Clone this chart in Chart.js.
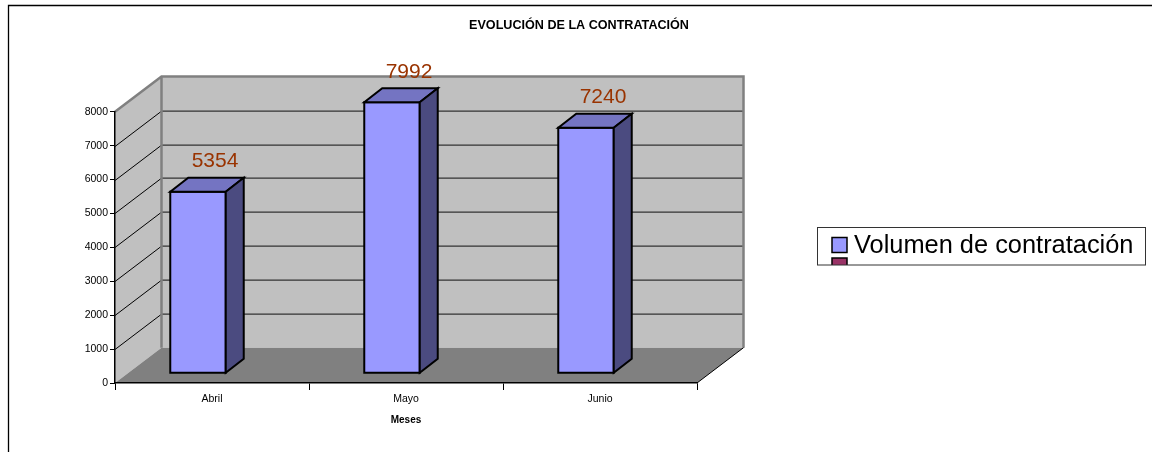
<!DOCTYPE html>
<html><head><meta charset="utf-8">
<script src="https://cdn.jsdelivr.net/npm/chart.js@4.4.1/dist/chart.umd.min.js"></script>
<style>html,body{margin:0;padding:0;background:#fff;overflow:hidden}canvas{display:block}</style>
</head><body>
<canvas id="c" width="1152" height="452"></canvas>
<script>
// ---- data ----
const chartTitle = 'EVOLUCIÓN DE LA CONTRATACIÓN';
const xAxisTitle = 'Meses';
const categories = ['Abril', 'Mayo', 'Junio'];
const volumen = [5354, 7992, 7240];
const yTickValues = [0, 1000, 2000, 3000, 4000, 5000, 6000, 7000, 8000];
const yTickLabels = ['0', '1000', '2000', '3000', '4000', '5000', '6000', '7000', '8000'];
const legendLabels = ['Volumen de contratación', ''];

// ---- styling constants ----
const FONT = '"Liberation Sans", Arial, sans-serif';
const WALL_DX = 46.5, WALL_DY = -35.3;   // depth of the 3D box
const BAR_DX = 18, BAR_DY = -14;         // depth of each bar
const BAR_OFF_X = -14, BAR_OFF_Y = -9.7; // bar front plane offset
const C_FRONT = '#9999FF', C_TOP = '#7474C2', C_SIDE = '#4B4B80';
const C_WALL = '#C0C0C0', C_FLOOR = '#808080', C_WALL_EDGE = '#808080';

const excel3d = {
  id: 'excel3d',
  beforeDraw(chart) {
    const {ctx, chartArea: a, scales: {x, y}} = chart;
    ctx.save();
    ctx.fillStyle = '#fff';
    ctx.fillRect(0, 0, chart.width, chart.height);
    // outer frame (top + left)
    ctx.strokeStyle = '#000'; ctx.lineWidth = 1.3;
    ctx.beginPath(); ctx.moveTo(8.5, chart.height); ctx.lineTo(8.5, 5.5); ctx.lineTo(chart.width, 5.5); ctx.stroke();
    // title
    ctx.fillStyle = '#000';
    ctx.font = 'bold 12.6px ' + FONT;
    ctx.textAlign = 'center'; ctx.textBaseline = 'middle';
    ctx.fillText(chartTitle, 579, 26);

    const y0 = y.getPixelForValue(0), yM = y.getPixelForValue(y.max);
    const L = a.left, R = a.right;
    // back wall
    ctx.fillStyle = C_WALL;
    ctx.fillRect(L + WALL_DX, yM + WALL_DY, R - L, y0 - yM);
    // side wall
    ctx.beginPath();
    ctx.moveTo(L, y0); ctx.lineTo(L, yM); ctx.lineTo(L + WALL_DX, yM + WALL_DY); ctx.lineTo(L + WALL_DX, y0 + WALL_DY); ctx.closePath();
    ctx.fill();
    // floor
    ctx.fillStyle = C_FLOOR;
    ctx.beginPath();
    ctx.moveTo(L, y0); ctx.lineTo(R, y0); ctx.lineTo(R + WALL_DX, y0 + WALL_DY); ctx.lineTo(L + WALL_DX, y0 + WALL_DY); ctx.closePath();
    ctx.fill();
    // gridlines on back wall + diagonals on side wall
    yTickValues.forEach(v => {
      if (v === 0 || v === y.max) return;
      const py = Math.round(y.getPixelForValue(v)) + 0.5;
      ctx.strokeStyle = '#333'; ctx.lineWidth = 1.3;
      ctx.beginPath(); ctx.moveTo(L + WALL_DX, py + WALL_DY); ctx.lineTo(R + WALL_DX, py + WALL_DY); ctx.stroke();
      ctx.strokeStyle = '#000'; ctx.lineWidth = 1;
      ctx.beginPath(); ctx.moveTo(L, py); ctx.lineTo(L + WALL_DX, py + WALL_DY); ctx.stroke();
    });
    // wall edges
    ctx.strokeStyle = C_WALL_EDGE; ctx.lineWidth = 2.5; ctx.lineJoin = 'miter';
    ctx.beginPath();
    ctx.moveTo(L, yM); ctx.lineTo(L + WALL_DX, yM + WALL_DY); ctx.lineTo(R + WALL_DX, yM + WALL_DY); ctx.lineTo(R + WALL_DX, y0 + WALL_DY);
    ctx.moveTo(L + WALL_DX, yM + WALL_DY); ctx.lineTo(L + WALL_DX, y0 + WALL_DY);
    ctx.stroke();
    // floor right edge
    ctx.strokeStyle = '#000'; ctx.lineWidth = 1;
    ctx.beginPath(); ctx.moveTo(R, y0); ctx.lineTo(R + WALL_DX, y0 + WALL_DY); ctx.stroke();
    ctx.restore();
  },
  beforeDatasetDraw(chart, args) {
    const {ctx} = chart;
    const meta = args.meta;
    ctx.save();
    meta.data.forEach((el, i) => {
      const w = el.width;
      const x0 = el.x - w / 2 + BAR_OFF_X, x1 = x0 + w;
      const yT = el.y + BAR_OFF_Y, yB = el.base + BAR_OFF_Y;
      ctx.lineWidth = 2; ctx.strokeStyle = '#000'; ctx.lineJoin = 'miter';
      // front
      ctx.fillStyle = C_FRONT;
      ctx.beginPath(); ctx.rect(x0, yT, w, yB - yT); ctx.fill(); ctx.stroke();
      // top
      ctx.fillStyle = C_TOP;
      ctx.beginPath(); ctx.moveTo(x0, yT); ctx.lineTo(x1, yT); ctx.lineTo(x1 + BAR_DX, yT + BAR_DY); ctx.lineTo(x0 + BAR_DX, yT + BAR_DY); ctx.closePath(); ctx.fill(); ctx.stroke();
      // side
      ctx.fillStyle = C_SIDE;
      ctx.beginPath(); ctx.moveTo(x1, yT); ctx.lineTo(x1 + BAR_DX, yT + BAR_DY); ctx.lineTo(x1 + BAR_DX, yB + BAR_DY); ctx.lineTo(x1, yB); ctx.closePath(); ctx.fill(); ctx.stroke();
      // value label
      ctx.fillStyle = '#993300';
      ctx.font = '21px ' + FONT;
      ctx.textAlign = 'center'; ctx.textBaseline = 'middle';
      ctx.fillText(String(chart.data.datasets[args.index].data[i]), el.x + 3, el.y - 40);
    });
    ctx.restore();
    return false;
  },
  afterDraw(chart) {
    const {ctx} = chart;
    ctx.save();
    // legend box
    const bx = 817.5, by = 227.5, bw = 328, bh = 37.5;
    ctx.fillStyle = '#fff'; ctx.fillRect(bx, by, bw, bh);
    ctx.save();
    ctx.beginPath(); ctx.rect(bx, by, bw, bh); ctx.clip();
    ctx.lineWidth = 1.5; ctx.strokeStyle = '#000';
    ctx.fillStyle = C_FRONT; ctx.fillRect(832, 237.5, 15, 15); ctx.strokeRect(832, 237.5, 15, 15);
    ctx.fillStyle = '#993366'; ctx.fillRect(832, 258, 15, 15); ctx.strokeRect(832, 258, 15, 15);
    ctx.fillStyle = '#000';
    ctx.font = '25.4px ' + FONT;
    ctx.textAlign = 'left'; ctx.textBaseline = 'alphabetic';
    ctx.fillText(legendLabels[0], 854, 253);
    ctx.restore();
    ctx.strokeStyle = '#333'; ctx.lineWidth = 1;
    ctx.strokeRect(bx, by, bw, bh);
    ctx.restore();
  }
};

new Chart(document.getElementById('c'), {
  type: 'bar',
  data: {
    labels: categories,
    datasets: [{label: legendLabels[0], data: volumen, backgroundColor: C_FRONT,
      barPercentage: 0.286, categoryPercentage: 1}]
  },
  options: {
    responsive: false, animation: false, devicePixelRatio: 1, events: [],
    layout: {padding: {left: 55, right: 455, top: 111.7, bottom: 26}},
    plugins: {legend: {display: false}, title: {display: false}, tooltip: {enabled: false}},
    scales: {
      x: {
        offset: true,
        grid: {offset: true, drawOnChartArea: false, drawTicks: true, tickLength: 7, color: '#000', lineWidth: 1},
        border: {display: true, color: '#000', width: 1.5},
        ticks: {color: '#000', font: {family: FONT, size: 10.5}, padding: 3, maxRotation: 0},
        title: {display: true, text: xAxisTitle, color: '#000', font: {family: FONT, size: 10, weight: 'bold'}, padding: 0},
        afterFit(s) { s.height = 43; }
      },
      y: {
        min: 0, max: 8000,
        grid: {drawOnChartArea: false, drawTicks: true, tickLength: 5, color: '#000', lineWidth: 1},
        border: {display: true, color: '#000', width: 1.5},
        ticks: {stepSize: 1000, color: '#000', font: {family: FONT, size: 10.5}, padding: 2,
          callback: (v, i) => yTickLabels[i]},
        afterFit(s) { s.width = 60; }
      }
    }
  },
  plugins: [excel3d]
});
</script>
</body></html>
